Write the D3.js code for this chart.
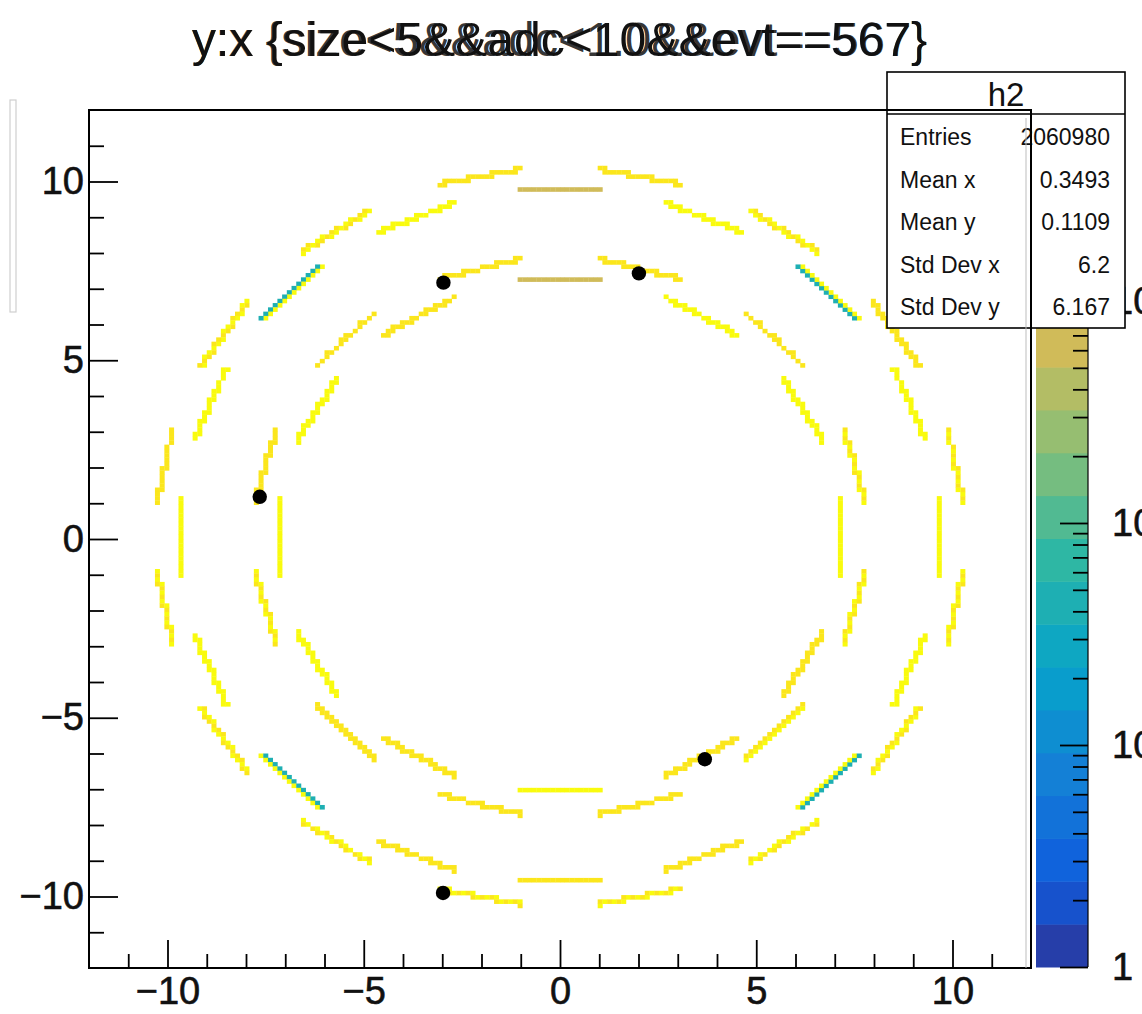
<!DOCTYPE html>
<html><head><meta charset="utf-8">
<script src="https://cdn.jsdelivr.net/npm/d3@7"></script>
<style>body{margin:0;background:#fff;} svg{display:block;}</style>
</head><body>
<svg id="c" width="1142" height="1014"></svg>
<script>
// ---------------- data ----------------
const titleTexts = ["y:x {size<5&&adc<10&&evt==567}", "y:x {size<5&&adc<1.0&&evt==567}"];
const statsName = "h2";
const statsLabels = ["Entries", "Mean x", "Mean y", "Std Dev x", "Std Dev y"];
const statsValues = ["2060980", "0.3493", "0.1109", "6.2", "6.167"];

const xDomain = [-12, 12];
const yDomain = [-12, 12];
const zDomain = [1, 7250];
const nBins = 200;
const nContours = 20;

const xTicks = [-10, -5, 0, 5, 10];
const xMinorTicks = [-11, -9, -8, -7, -6, -4, -3, -2, -1, 1, 2, 3, 4, 6, 7, 8, 9, 11];
const yTicks = [-10, -5, 0, 5, 10];
const yMinorTicks = [-11, -9, -8, -7, -6, -4, -3, -2, -1, 1, 2, 3, 4, 6, 7, 8, 9, 11];
const zTicks = [1, 10, 100, 1000];
const zTickLabels = ["1", "10", "10\u00B2", "10\u00B3"];
const zMinorTicks = [2, 3, 4, 5, 6, 7, 8, 9, 20, 30, 40, 50, 60, 70, 80, 90, 200, 300, 400, 500, 600, 700, 800, 900, 2000, 3000, 4000, 5000, 6000, 7000];

// detector staves: ring centre, stave length, angle (deg), radius, bin content
const ringCenter = [0, 0.07];
const staveLength = 2.1;
const innerAngles = [0, 15, 30, 45, 60, 75, 90, 105, 120, 135, 150, 165, 180, 195, 210, 225, 240, 255, 270, 285, 300, 315, 330, 345];
const innerRadii = [7.14, 7.76, 7.14, 7.76, 7.14, 7.76, 7.14, 7.76, 7.14, 7.76, 7.14, 7.76, 7.14, 7.76, 7.14, 7.76, 7.14, 7.76, 7.14, 7.76, 7.14, 7.76, 7.14, 7.76];
const innerValues = [6000, 5000, 5000, 4000, 5000, 4000, 600, 4000, 4000, 3000, 5000, 4500, 6000, 5000, 5000, 4500, 4000, 3500, 6000, 4000, 4500, 5000, 4500, 5000];
const innerAltValues = [0, 3500, 0, 3500, 0, 3500, 0, 3500, 0, 3500, 0, 3500, 0, 3500, 0, 3500, 0, 3500, 0, 3500, 0, 3500, 0, 3500];

const outerAngles = [0, 11.25, 22.5, 33.75, 45, 56.25, 67.5, 78.75, 90, 101.25, 112.5, 123.75, 135, 146.25, 157.5, 168.75, 180, 191.25, 202.5, 213.75, 225, 236.25, 247.5, 258.75, 270, 281.25, 292.5, 303.75, 315, 326.25, 337.5, 348.75];
const outerRadii = [9.65, 10.27, 9.65, 10.27, 9.65, 10.27, 9.65, 10.27, 9.65, 10.27, 9.65, 10.27, 9.65, 10.27, 9.65, 10.27, 9.65, 10.27, 9.65, 10.27, 9.65, 10.27, 9.65, 10.27, 9.65, 10.27, 9.65, 10.27, 9.65, 10.27, 9.65, 10.27];
const outerValues = [6000, 5000, 5000, 4000, 5000, 5000, 5000, 4000, 600, 4000, 5000, 5000, 5000, 5000, 5000, 4000, 6000, 5000, 5000, 5000, 5000, 5000, 4000, 5000, 3500, 5000, 4000, 5000, 5000, 5000, 5000, 5000];
const outerAltValues = [0, 3500, 0, 3500, 40, 3500, 0, 3500, 0, 3500, 0, 3500, 40, 3500, 0, 3500, 0, 3500, 0, 3500, 40, 3500, 0, 3500, 0, 3500, 0, 3500, 40, 3500, 0, 3500];

// black markers
const markX = [-2.97, 2.01, -7.65, 3.69, -2.98];
const markY = [7.17, 7.43, 1.18, -6.16, -9.90];

// kBird palette stops (ROOT)
const birdStops = [0, 0.125, 0.25, 0.375, 0.5, 0.625, 0.75, 0.875, 1];
const birdR = [0.2082, 0.0592, 0.0780, 0.0232, 0.1802, 0.5301, 0.8186, 0.9956, 0.9764];
const birdG = [0.1664, 0.3599, 0.5041, 0.6419, 0.7178, 0.7492, 0.7328, 0.7862, 0.9832];
const birdB = [0.5293, 0.8684, 0.8385, 0.7914, 0.6425, 0.4662, 0.3499, 0.1968, 0.0539];

// ---------------- drawing ----------------
const svg = d3.select("#c");
const FONT = "'Liberation Sans', Arial, Helvetica, sans-serif";
const frame = {left: 89, right: 1031, top: 110, bottom: 968};

const x = d3.scaleLinear().domain(xDomain).range([frame.left, frame.right]);
const y = d3.scaleLinear().domain(yDomain).range([frame.bottom, frame.top]);
const zNorm = d3.scaleLog().domain(zDomain).range([0, 1]).clamp(true);
const zBar = d3.scaleLog().domain(zDomain).range([967, frame.top]);

const birdInterp = d3.scaleLinear().domain(birdStops)
  .range(birdStops.map((s, i) => d3.rgb(birdR[i] * 255, birdG[i] * 255, birdB[i] * 255)))
  .interpolate(d3.interpolateRgb);
function levelColor(lev) { return birdInterp((lev + 0.99) / nContours); }
function valueColor(v) {
  const lev = Math.min(nContours - 1, Math.floor(zNorm(v) * nContours));
  return levelColor(lev);
}

svg.append("rect").attr("width", 1142).attr("height", 1014).attr("fill", "#fff");

// faint artefacts at left
svg.append("rect").attr("x", 10).attr("y", 100).attr("width", 6).attr("height", 212)
  .attr("fill", "none").attr("stroke", "#cfcfcf").attr("stroke-width", 1.2);

// rasterise staves into histogram bins
const bw = (xDomain[1] - xDomain[0]) / nBins;
const bh = (yDomain[1] - yDomain[0]) / nBins;
const cells = [];
function addStaves(angles, radii, values, alts) {
  angles.forEach((a, i) => {
    const th = a * Math.PI / 180;
    const cx = ringCenter[0] + radii[i] * Math.cos(th);
    const cy = ringCenter[1] + radii[i] * Math.sin(th);
    const tx = -Math.sin(th), ty = Math.cos(th);
    const seen = new Set();
    let count = 0;
    const N = 120;
    for (let s = 0; s <= N; s++) {
      const u = -staveLength / 2 + staveLength * s / N;
      const px = cx + u * tx, py = cy + u * ty;
      const ix = Math.floor((px - xDomain[0]) / bw);
      const iy = Math.floor((py - yDomain[0]) / bh);
      const key = ix + "_" + iy;
      if (seen.has(key)) continue;
      seen.add(key);
      const v = (alts[i] && count % 2 === 1) ? alts[i] : values[i];
      cells.push({ix, iy, v});
      count++;
    }
  });
}
addStaves(innerAngles, innerRadii, innerValues, innerAltValues);
addStaves(outerAngles, outerRadii, outerValues, outerAltValues);

svg.append("g").selectAll("rect").data(cells).join("rect")
  .attr("x", d => x(xDomain[0] + d.ix * bw))
  .attr("y", d => y(yDomain[0] + (d.iy + 1) * bh))
  .attr("width", x(bw) - x(0) + 0.3)
  .attr("height", y(0) - y(bh) + 0.3)
  .attr("fill", d => valueColor(d.v));

// markers
svg.append("g").selectAll("circle").data(markX).join("circle")
  .attr("cx", (d, i) => x(markX[i]))
  .attr("cy", (d, i) => y(markY[i]))
  .attr("r", 7.2).attr("fill", "#000");

// axes
function styleAxis(g) {
  g.select(".domain").remove();
  g.selectAll("line").attr("stroke", "#000").attr("stroke-width", 1.8);
  g.attr("font-family", FONT).attr("font-size", 38);
  g.selectAll("text").attr("fill", "#111").attr("stroke", "#111").attr("stroke-width", 0.6);
}
svg.append("g").attr("transform", `translate(0,${frame.bottom})`)
  .call(d3.axisBottom(x).tickValues(xMinorTicks).tickSize(-14).tickSizeOuter(0).tickFormat(""))
  .call(styleAxis);
svg.append("g").attr("transform", `translate(0,${frame.bottom})`)
  .call(d3.axisBottom(x).tickValues(xTicks).tickSize(-28).tickSizeOuter(0).tickPadding(9))
  .call(styleAxis);
svg.append("g").attr("transform", `translate(${frame.left},0)`)
  .call(d3.axisLeft(y).tickValues(yMinorTicks).tickSize(-15).tickSizeOuter(0).tickFormat(""))
  .call(styleAxis);
svg.append("g").attr("transform", `translate(${frame.left},0)`)
  .call(d3.axisLeft(y).tickValues(yTicks).tickSize(-29).tickSizeOuter(0).tickPadding(5))
  .call(styleAxis);

// palette bar
const barX0 = 1036, barX1 = 1088;
const bands = d3.range(nContours);
const logMin = Math.log10(zDomain[0]), logMax = Math.log10(zDomain[1]);
svg.append("g").selectAll("rect").data(bands).join("rect")
  .attr("x", barX0).attr("width", barX1 - barX0)
  .attr("y", i => zBar(Math.pow(10, logMin + (i + 1) * (logMax - logMin) / nContours)))
  .attr("height", i => zBar(Math.pow(10, logMin + i * (logMax - logMin) / nContours)) - zBar(Math.pow(10, logMin + (i + 1) * (logMax - logMin) / nContours)) + 0.5)
  .attr("fill", i => levelColor(i));
svg.append("g").attr("transform", `translate(${barX1},0)`)
  .call(d3.axisRight(zBar).tickValues(zMinorTicks).tickSize(-15).tickSizeOuter(0).tickFormat(""))
  .call(styleAxis);
svg.append("g").attr("transform", `translate(${barX1},0)`)
  .call(d3.axisRight(zBar).tickValues(zTicks).tickSize(-28).tickSizeOuter(0).tickPadding(24)
    .tickFormat((d, i) => zTickLabels[i]))
  .call(styleAxis);
svg.append("line").attr("x1", barX1).attr("x2", barX1).attr("y1", frame.top).attr("y2", 967)
  .attr("stroke", "#000").attr("stroke-width", 1.2);

// stats box
const sb = {x: 887, y: 72, w: 238, h: 256};
const stats = svg.append("g").attr("font-family", FONT);
stats.append("rect").attr("x", sb.x).attr("y", sb.y).attr("width", sb.w).attr("height", sb.h)
  .attr("fill", "#fff").attr("stroke", "#000").attr("stroke-width", 1.6);
stats.append("line").attr("x1", sb.x).attr("x2", sb.x + sb.w).attr("y1", 114).attr("y2", 114)
  .attr("stroke", "#000").attr("stroke-width", 1.4);
stats.append("text").attr("x", sb.x + sb.w / 2).attr("y", 106).attr("text-anchor", "middle")
  .attr("font-size", 33).attr("fill", "#111").text(statsName);
statsLabels.forEach((lab, i) => {
  const by = 145 + i * 42.6;
  stats.append("text").attr("x", 900).attr("y", by).attr("font-size", 23).attr("fill", "#111").text(lab);
  stats.append("text").attr("x", 1110).attr("y", by).attr("font-size", 23).attr("fill", "#111")
    .attr("text-anchor", "end").text(statsValues[i]);
});

// frame (drawn over the stats box like the original)
svg.append("rect").attr("x", frame.left).attr("y", frame.top)
  .attr("width", frame.right - frame.left).attr("height", frame.bottom - frame.top)
  .attr("fill", "none").attr("stroke", "#000").attr("stroke-width", 2);
svg.append("line").attr("x1", 1026).attr("x2", 1026).attr("y1", 118).attr("y2", 968)
  .attr("stroke", "#bdbdbd").attr("stroke-width", 1);

// overlapping titles
titleTexts.forEach((t, i) => {
  svg.append("text").attr("x", 192).attr("y", 56)
    .attr("font-family", FONT).attr("font-size", 48).attr("fill", "#111")
    .attr("fill-opacity", i === 0 ? 1 : 0.85)
    .attr("textLength", 735).attr("lengthAdjust", "spacingAndGlyphs").text(t);
});
</script>
</body></html>
